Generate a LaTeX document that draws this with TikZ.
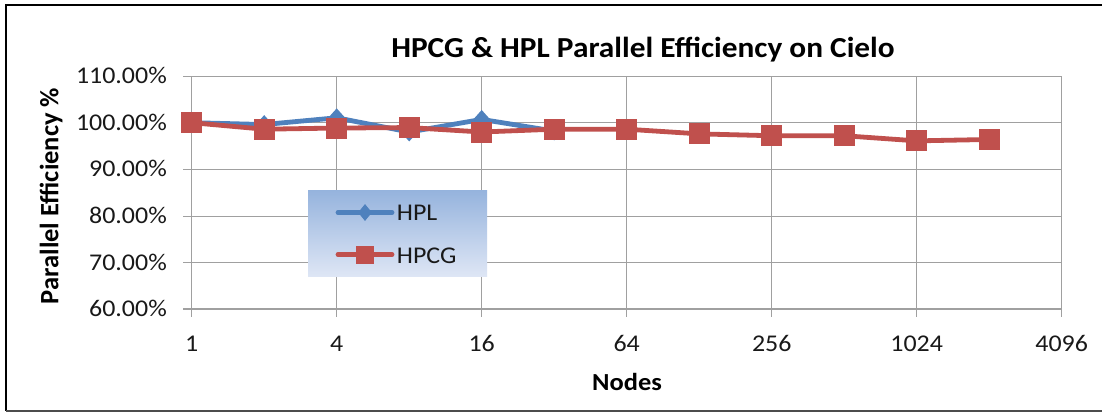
\documentclass[tikz,border=0pt]{standalone}
\usepackage{fontspec}
\setmainfont{Carlito}
\usetikzlibrary{shapes.geometric}
\definecolor{hplblue}{RGB}{79,129,189}
\definecolor{hpcgred}{RGB}{192,80,77}
\definecolor{gridgray}{RGB}{160,160,160}
\definecolor{legtop}{RGB}{149,179,221}
\definecolor{legbot}{RGB}{222,230,245}
\definecolor{txt}{RGB}{25,25,25}
\newcommand\hstr[1]{\scalebox{1.08}[1]{#1}}
\begin{document}
\begin{tikzpicture}[x=1pt,y=-1pt,
  lab/.style={font=\fontsize{24}{28}\selectfont, text=txt, inner sep=0pt},
  blab/.style={font=\fontsize{24.5}{28}\selectfont\bfseries, text=black, inner sep=0pt},
  gridline/.style={draw=gridgray, line width=1pt},
  sq/.style={rectangle, fill=hpcgred, minimum size=21pt, inner sep=0pt},
  lsq/.style={rectangle, fill=hpcgred, minimum size=18pt, inner sep=0pt},
  dm/.style={diamond, fill=hplblue, minimum width=17pt, minimum height=19pt, inner sep=0pt},
  hplline/.style={draw=hplblue, line width=4.8pt, line join=round, line cap=round},
  hpcgline/.style={draw=hpcgred, line width=4.8pt, line join=round, line cap=round},
  legendbox/.style={rectangle, top color=legtop, bottom color=legbot, draw=none, minimum width=179pt, minimum height=86pt, inner sep=0pt}
]
\useasboundingbox (0,0) rectangle (1102,412);
\fill[white] (0,0) rectangle (1102,412);
% frame
\draw[black, line width=2pt] (1110,5) -- (6,5) -- (6,411);
\draw[black!70, line width=1.5pt] (6,411) -- (1110,411);

% title
\node[font=\fontsize{29}{34}\selectfont\bfseries, text=black, inner sep=0pt, anchor=base] (title) at (643,58) {\hstr{HPCG \& HPL Parallel Efficiency on Cielo}};

% horizontal gridlines and y labels
\foreach \v [count=\j from 0] in {110,100,90,80,70} {
  \draw[gridline] (183,{76+\j*46.667}) -- (1061.7,{76+\j*46.667});
  \node[lab, anchor=base east] (yl\v) at (167,{76+\j*46.667+7.5}) {\hstr{\v.00\%}};
}
\node[lab, anchor=base east] (yl60) at (167,{309.3+7.5}) {\hstr{60.00\%}};
% vertical gridlines and x labels
\foreach \n [count=\i from 0] in {1,4,16,64,256,1024,4096} {
  \draw[gridline] ({191.7+145*\i},76) -- ({191.7+145*\i},317);
  \node[lab, anchor=base] (xl\n) at ({191.7+145*\i},351) {\hstr{\n}};
}
\draw[draw=gridgray, line width=2pt] (183,309.3) -- (1061.7,309.3);

% axis titles
\node[blab, anchor=base] (xtitle) at (627,390) {\hstr{Nodes}};
\node[blab, font=\fontsize{26.5}{30}\selectfont\bfseries, anchor=base, rotate=90] (ytitle) at (58.3,196) {Parallel Efficiency \%};

% legend
\node[legendbox] (leg) at (397.5,233) {};
\coordinate (l1a) at (338,212.5);
\coordinate (l1b) at (392,212.5);
\draw[hplline] (l1a) -- (l1b);
\node[dm, minimum width=14pt, minimum height=17pt] (l1m) at (365,212.5) {};
\node[lab, anchor=base west] (l1t) at (396.7,220) {\hstr{HPL}};
\coordinate (l2a) at (338,254.5);
\coordinate (l2b) at (392,254.5);
\draw[hpcgline] (l2a) -- (l2b);
\node[lsq] (l2m) at (364.5,255) {};
\node[lab, anchor=base west] (l2t) at (396.7,263.3) {\hstr{HPCG}};

% HPL series
\foreach \v [count=\i from 0] in {100,99.6,101.05,98.0,100.7,98.2}
  \coordinate (pb\i) at ({191.7+72.5*\i},{76+(110-\v)*4.667});
\draw[hplline] (pb0) \foreach \i in {1,...,5}{ -- (pb\i)};
\foreach \i in {0,...,5} \node[dm] (b\i) at (pb\i) {};

% HPCG series
\foreach \v [count=\i from 0] in {100,98.6,98.85,98.95,98.0,98.6,98.6,97.6,97.2,97.2,96.1,96.4}
  \coordinate (pr\i) at ({191.7+72.5*\i},{76+(110-\v)*4.667});
\draw[hpcgline] (pr0) \foreach \i in {1,...,11}{ -- (pr\i)};
\foreach \i in {0,...,11} \node[sq] (r\i) at (pr\i) {};
\end{tikzpicture}
\end{document}
